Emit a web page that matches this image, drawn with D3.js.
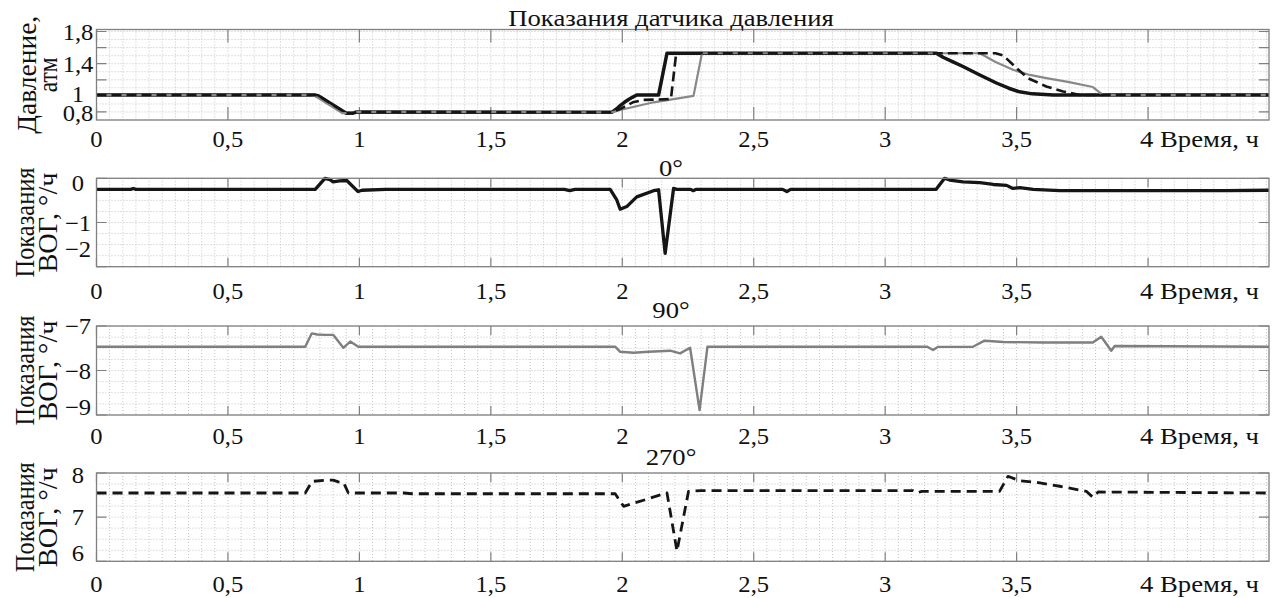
<!DOCTYPE html>
<html><head><meta charset="utf-8">
<script src="https://cdn.jsdelivr.net/npm/d3@7"></script>
<style>
body{margin:0;background:#fff}
</style>
</head><body>
<svg id="c" width="1276" height="598" font-family="'Liberation Serif', 'DejaVu Serif', 'Times New Roman', serif"></svg>
<script>
// ---------- data ----------
const timeTicks = [0, 0.5, 1, 1.5, 2, 2.5, 3, 3.5, 4];
const timeTickLabels = ["0", "0,5", "1", "1,5", "2", "2,5", "3", "3,5", "4"];
const timeAxisTitle = "Время, ч";

const pressureTitle = "Показания датчика давления";
const pressureTicks = [0.8, 1, 1.2, 1.4, 1.6, 1.8];
const pressureTickLabels = ["0,8", "1", "", "1,4", "", "1,8"];
const pressureAxisTitle = ["Давление,", "атм"];

const pressureSolidT = [0, 0.83, 0.845, 0.95, 0.975, 0.99, 1.96, 1.979, 1.992, 2.008, 2.024, 2.04, 2.055, 2.138, 2.17, 3.195, 3.22, 3.26, 3.296, 3.36, 3.423, 3.47, 3.511, 3.56, 3.64, 4.46];
const pressureSolidV = [1.01, 1.01, 1.0, 0.785, 0.785, 0.8, 0.795, 0.84, 0.88, 0.92, 0.955, 0.985, 1.01, 1.01, 1.53, 1.53, 1.48, 1.42, 1.365, 1.26, 1.16, 1.095, 1.05, 1.025, 1.01, 1.01];

const pressureGrayT = [0, 0.815, 0.83, 0.935, 0.97, 0.99, 1.96, 2.0, 2.119, 2.271, 2.303, 3.36, 3.42, 3.486, 3.55, 3.613, 3.7, 3.79, 3.829, 4.46];
const pressureGrayV = [1.01, 1.01, 1.0, 0.785, 0.785, 0.8, 0.795, 0.83, 0.92, 1.0, 1.53, 1.53, 1.42, 1.324, 1.26, 1.22, 1.17, 1.11, 1.01, 1.01];

const pressureDashedT = [0, 0.83, 0.845, 0.95, 0.975, 0.99, 1.96, 2.0, 2.04, 2.08, 2.185, 2.205, 3.42, 3.45, 3.50, 3.543, 3.613, 3.677, 3.74, 4.46];
const pressureDashedV = [1.01, 1.01, 1.0, 0.785, 0.785, 0.8, 0.795, 0.85, 0.92, 0.95, 0.96, 1.53, 1.53, 1.5, 1.345, 1.22, 1.117, 1.055, 1.01, 1.01];

const gyro0Title = "0°";
const gyro0Ticks = [-2, -1, 0];
const gyro0TickLabels = ["−2", "−1", "0"];
const gyro0T = [0, 0.13, 0.14, 0.15, 0.832, 0.869, 0.888, 0.90, 0.925, 0.952, 0.995, 1.01, 1.1, 1.78, 1.8, 1.82, 1.954, 1.979, 1.992, 2.017, 2.055, 2.119, 2.138, 2.163, 2.195, 2.208, 2.26, 2.27, 2.28, 2.61, 2.626, 2.64, 3.194, 3.226, 3.245, 3.296, 3.36, 3.411, 3.462, 3.486, 3.512, 3.563, 3.664, 4.3, 4.46];
const gyro0V = [-0.25, -0.25, -0.23, -0.25, -0.25, 0.0, -0.03, -0.08, -0.06, -0.05, -0.30, -0.27, -0.25, -0.25, -0.28, -0.25, -0.25, -0.49, -0.70, -0.64, -0.42, -0.28, -0.26, -1.70, -0.23, -0.25, -0.25, -0.28, -0.25, -0.25, -0.3, -0.25, -0.25, 0.0, -0.04, -0.08, -0.1, -0.14, -0.16, -0.23, -0.21, -0.25, -0.28, -0.28, -0.27];

const gyro90Title = "90°";
const gyro90Ticks = [-9, -8, -7];
const gyro90TickLabels = ["−9", "−8", "−7"];
const gyro90T = [0, 0.794, 0.819, 0.84, 0.87, 0.901, 0.939, 0.965, 0.996, 1.973, 1.992, 2.043, 2.10, 2.182, 2.22, 2.258, 2.294, 2.324, 3.16, 3.182, 3.20, 3.334, 3.378, 3.45, 3.6, 3.79, 3.822, 3.86, 3.873, 4.46];
const gyro90V = [-7.465, -7.465, -7.165, -7.19, -7.2, -7.2, -7.49, -7.35, -7.465, -7.465, -7.58, -7.60, -7.58, -7.555, -7.615, -7.49, -8.89, -7.465, -7.465, -7.54, -7.47, -7.465, -7.33, -7.36, -7.37, -7.37, -7.24, -7.555, -7.45, -7.465];

const gyro270Title = "270°";
const gyro270Ticks = [6, 7, 8];
const gyro270TickLabels = ["6", "7", "8"];
const gyro270T = [0, 0.794, 0.82, 0.87, 0.90, 0.92, 0.94, 0.958, 1.17, 1.2, 1.973, 2.005, 2.106, 2.17, 2.208, 2.252, 2.3, 3.106, 3.12, 3.14, 3.435, 3.467, 3.511, 3.575, 3.664, 3.765, 3.79, 3.81, 4.46];
const gyro270V = [7.547, 7.547, 7.81, 7.835, 7.84, 7.80, 7.78, 7.547, 7.547, 7.53, 7.53, 7.245, 7.43, 7.55, 6.23, 7.585, 7.6, 7.6, 7.55, 7.585, 7.585, 7.925, 7.826, 7.79, 7.70, 7.585, 7.45, 7.57, 7.547];

const gyroAxisTitle = ["Показания", "ВОГ, °/ч"];

// ---------- layout ----------
const FONT = "'Liberation Serif', 'DejaVu Serif', 'Times New Roman', serif";
const svg = d3.select("#c");
const left = 96.5, right = 1269;
const x = d3.scaleLinear().domain([0, 4.46]).range([left, right]);
const minorX = d3.range(0, 4.4601, 0.05);
const zip = (T, V) => T.map((t, i) => [t, V[i]]);

const black = "#151515", gray = "#888888", frame = "#808080";
const FS = 23, SX_NUM = 1.07, SX_TXT = 1.16;

function label(g, x0, y0, str, anchor, sx, rot, len) {
  const t = g.append("text")
    .attr("transform", `translate(${x0},${y0})` + (rot ? ` rotate(-90) scale(1,${sx})` : ` scale(${sx},1)`))
    .attr("text-anchor", anchor).attr("font-size", FS).attr("font-family", FONT)
    .attr("fill", "#111").text(str);
  if (len) t.attr("textLength", len).attr("lengthAdjust", "spacingAndGlyphs");
  return t;
}

const panels = [
  { top: 29.5, bottom: 120, domain: [0.7, 1.825], ticks: pressureTicks, labels: pressureTickLabels,
    title: pressureTitle, titleY: 25.5, xLabelDy: 27, tickLen: 13, inset: [0, 0],
    yTitle: pressureAxisTitle, yTitleX: [36, 57], yTitleLen: [118, 35], gridY: d3.range(0.7, 1.8251, 0.1),
    series: [
      { data: zip(pressureSolidT, pressureSolidV), color: black, width: 3.5 },
      { data: zip(pressureGrayT, pressureGrayV), color: gray, width: 2.2 },
      { data: zip(pressureDashedT, pressureDashedV), color: black, width: 2.6, dash: "10,5" }
    ] },
  { top: 178.3, bottom: 266.7, domain: [-2, 0], ticks: gyro0Ticks, labels: gyro0TickLabels,
    title: gyro0Title, titleY: 176, xLabelDy: 32, tickLen: 9, inset: [5, 18],
    yTitle: gyroAxisTitle, yTitleX: [34, 57], yTitleLen: [110, 100], gridY: d3.range(-2, 0.001, 0.25),
    series: [{ data: zip(gyro0T, gyro0V), color: black, width: 3.3 }] },
  { top: 326, bottom: 415, domain: [-9, -7], ticks: gyro90Ticks, labels: gyro90TickLabels,
    title: gyro90Title, titleY: 318, xLabelDy: 29, tickLen: 9, inset: [0, 8],
    yTitle: gyroAxisTitle, yTitleX: [34, 57], yTitleLen: [110, 100], gridY: d3.range(-9, -6.999, 0.25),
    series: [{ data: zip(gyro90T, gyro90V), color: "#7f7f7f", width: 2.4 }] },
  { top: 473, bottom: 561.3, domain: [6, 8], ticks: gyro270Ticks, labels: gyro270TickLabels,
    title: gyro270Title, titleY: 465, xLabelDy: 31, tickLen: 9, inset: [2, 8],
    yTitle: gyroAxisTitle, yTitleX: [34, 57], yTitleLen: [110, 100], gridY: d3.range(6, 8.001, 0.25),
    series: [{ data: zip(gyro270T, gyro270V), color: black, width: 2.8, dash: "10,6" }] }
];

panels.forEach((p, pi) => {
  const y = d3.scaleLinear().domain(p.domain).range([p.bottom, p.top]);
  const g = svg.append("g");
  // minor dotted grid
  g.selectAll(".gx").data(minorX).join("line")
    .attr("x1", d => x(d)).attr("x2", d => x(d)).attr("y1", p.top).attr("y2", p.bottom)
    .attr("stroke", "#c4c4c4").attr("stroke-width", 1).attr("stroke-dasharray", "1,2");
  g.selectAll(".gy").data(p.gridY).join("line")
    .attr("x1", left).attr("x2", right).attr("y1", d => y(d)).attr("y2", d => y(d))
    .attr("stroke", "#c4c4c4").attr("stroke-width", 1).attr("stroke-dasharray", "1,2");

  // ticks (inward, mirrored)
  g.selectAll(".tx").data(timeTicks).join("path")
    .attr("d", d => `M${x(d)},${p.bottom}v${-p.tickLen}M${x(d)},${p.top}v${p.tickLen}`)
    .attr("stroke", frame).attr("stroke-width", 1.2);
  g.selectAll(".ty").data(p.ticks).join("path")
    .attr("d", d => `M${left},${y(d)}h10M${right},${y(d)}h-10`)
    .attr("stroke", frame).attr("stroke-width", 1.2);

  // series
  const line = d3.line().x(d => x(d[0])).y(d => y(d[1]));
  p.series.forEach(s => {
    g.append("path").attr("d", line(s.data)).attr("fill", "none")
      .attr("stroke", s.color).attr("stroke-width", s.width)
      .attr("stroke-linejoin", "round")
      .attr("stroke-dasharray", s.dash || null);
  });

  // frame
  g.append("rect").attr("x", left).attr("y", p.top).attr("width", right - left).attr("height", p.bottom - p.top)
    .attr("fill", "none").attr("stroke", frame).attr("stroke-width", 1.3);

  // x tick labels
  timeTicks.forEach((d, i) => {
    if (i === timeTicks.length - 1) {
      label(g, x(d) - 8, p.bottom + p.xLabelDy, timeTickLabels[i] + " " + timeAxisTitle, "start", SX_TXT);
    } else {
      label(g, x(d), p.bottom + p.xLabelDy, timeTickLabels[i], "middle", SX_NUM);
    }
  });

  // y tick labels
  p.ticks.forEach((d, i) => {
    if (!p.labels[i]) return;
    let cy = Math.max(p.top + p.inset[0], Math.min(p.bottom - p.inset[1], y(d)));
    if (pi === 0 && d === 1) cy -= 2;
    if (pi === 0 && d === 0.8) cy += 1.5;
    label(g, 78, cy + 8, p.labels[i], "middle", SX_NUM);
  });

  // title
  label(g, 671, p.titleY, p.title, "middle", SX_TXT);

  // y axis title (two lines, rotated)
  const cy = (p.top + p.bottom) / 2;
  p.yTitle.forEach((t, i) => label(g, p.yTitleX[i], cy, t, "middle", SX_TXT, true, p.yTitleLen[i]));
});
</script>
</body></html>
